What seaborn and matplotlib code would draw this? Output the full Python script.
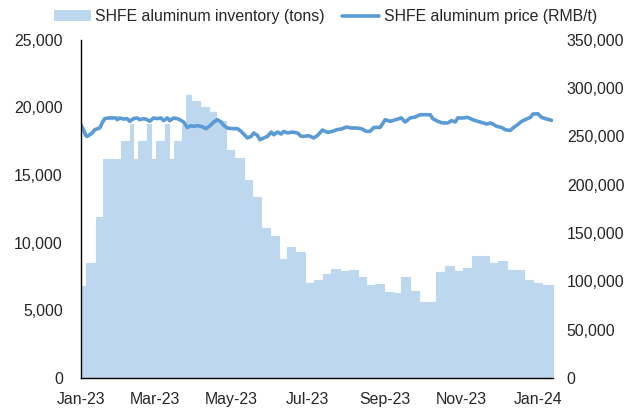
import matplotlib
matplotlib.use("Agg")
import pandas as pd
import seaborn as sns
import matplotlib.pyplot as plt
import matplotlib.dates as mdates
import matplotlib.ticker as ticker
from matplotlib.patches import Patch
from matplotlib.lines import Line2D

# SHFE aluminum price, RMB/t (left axis)
price_dates = [
    "2023-01-01", "2023-01-03", "2023-01-05", "2023-01-06", "2023-01-10", "2023-01-12",
    "2023-01-16", "2023-01-18", "2023-01-20", "2023-01-23", "2023-01-29", "2023-01-30",
    "2023-02-01", "2023-02-04", "2023-02-07", "2023-02-09", "2023-02-12", "2023-02-15",
    "2023-02-17", "2023-02-20", "2023-02-23", "2023-02-25", "2023-02-28", "2023-03-03",
    "2023-03-06", "2023-03-08", "2023-03-11", "2023-03-13", "2023-03-16", "2023-03-19",
    "2023-03-21", "2023-03-24", "2023-03-27", "2023-03-30", "2023-04-01", "2023-04-04",
    "2023-04-07", "2023-04-09", "2023-04-11", "2023-04-15", "2023-04-17", "2023-04-20",
    "2023-04-23", "2023-04-25", "2023-04-28", "2023-05-02", "2023-05-06", "2023-05-09",
    "2023-05-11", "2023-05-14", "2023-05-17", "2023-05-19", "2023-05-22", "2023-05-24",
    "2023-05-27", "2023-05-30", "2023-06-02", "2023-06-04", "2023-06-07", "2023-06-10",
    "2023-06-12", "2023-06-15", "2023-06-19", "2023-06-23", "2023-06-26", "2023-06-28",
    "2023-07-02", "2023-07-06", "2023-07-09", "2023-07-13", "2023-07-17", "2023-07-21",
    "2023-07-25", "2023-07-28", "2023-08-01", "2023-08-05", "2023-08-09", "2023-08-13",
    "2023-08-17", "2023-08-20", "2023-08-23", "2023-08-28", "2023-09-01", "2023-09-05",
    "2023-09-07", "2023-09-11", "2023-09-14", "2023-09-17", "2023-09-21", "2023-09-25",
    "2023-09-29", "2023-10-03", "2023-10-07", "2023-10-09", "2023-10-13", "2023-10-17",
    "2023-10-21", "2023-10-24", "2023-10-27", "2023-10-29", "2023-11-02", "2023-11-06",
    "2023-11-10", "2023-11-14", "2023-11-17", "2023-11-21", "2023-11-24", "2023-11-26",
    "2023-11-29", "2023-12-03", "2023-12-06", "2023-12-10", "2023-12-12", "2023-12-15",
    "2023-12-19", "2023-12-23", "2023-12-26", "2023-12-28", "2024-01-01", "2024-01-04",
    "2024-01-08", "2024-01-12",
]
price_values = [
    18710, 18340, 17900, 17850, 18100, 18340,
    18470, 18840, 19160, 19210, 19210, 19080,
    19210, 19130, 19160, 18960, 19160, 19210,
    19080, 19160, 19080, 18960, 19210, 19160,
    19210, 19010, 19210, 19010, 19210, 19160,
    19080, 18910, 18510, 18640, 18590, 18640,
    18590, 18510, 18420, 18710, 18910, 19080,
    18910, 18660, 18470, 18420, 18420, 18220,
    18020, 17730, 17850, 18100, 17920, 17600,
    17730, 17850, 18170, 17970, 18170, 18020,
    18220, 18100, 18170, 18100, 17850, 17850,
    17900, 17730, 17920, 18320, 18140, 18220,
    18360, 18390, 18540, 18470, 18470, 18420,
    18220, 18220, 18510, 18510, 19080, 18960,
    19010, 19130, 19210, 18910, 19210, 19280,
    19450, 19450, 19450, 19160, 18960, 18840,
    18840, 19010, 18910, 19210, 19210, 19250,
    19080, 18960, 18880, 18760, 18840, 18760,
    18590, 18510, 18340, 18290, 18470, 18660,
    18960, 19130, 19250, 19500, 19520, 19250,
    19130, 19030,
]

# SHFE aluminum inventory, tons (right axis), weekly readings
inv_dates = [
    "2023-01-01", "2023-01-05", "2023-01-13", "2023-01-19", "2023-02-02", "2023-02-09",
    "2023-02-12", "2023-02-16", "2023-02-23", "2023-02-26", "2023-03-02", "2023-03-09",
    "2023-03-12", "2023-03-16", "2023-03-23", "2023-03-26", "2023-03-30", "2023-04-06",
    "2023-04-13", "2023-04-19", "2023-04-27", "2023-05-03", "2023-05-11", "2023-05-18",
    "2023-05-25", "2023-06-01", "2023-06-08", "2023-06-15", "2023-06-21", "2023-06-29",
    "2023-07-06", "2023-07-13", "2023-07-20", "2023-07-27", "2023-08-03", "2023-08-10",
    "2023-08-17", "2023-08-24", "2023-08-31", "2023-09-07", "2023-09-14", "2023-09-21",
    "2023-09-28", "2023-10-12", "2023-10-19", "2023-10-26", "2023-11-02", "2023-11-09",
    "2023-11-16", "2023-11-23", "2023-11-30", "2023-12-07", "2023-12-21", "2023-12-28",
    "2024-01-04", "2024-01-13",
]
inv_values = [
    95300, 118800, 167000, 226500, 245400, 263000,
    226500, 245400, 263000, 226500, 245400, 263000,
    226500, 245400, 262000, 293000, 286200, 280300,
    274800, 266000, 236000, 227500, 205000, 186800,
    155000, 147000, 123200, 135500, 130800, 98100,
    101500, 107700, 112500, 110400, 112200, 104900,
    96000, 97700, 89100, 88000, 104200, 89700,
    78700, 109800, 116000, 110400, 114200, 126300,
    126000, 119400, 121500, 111500, 101500, 98400,
    96300, 96300,
]

price_label = "SHFE aluminum price (RMB/t)"
inv_label = "SHFE aluminum inventory (tons)"
line_color = "#5B9BD5"
fill_color = "#BDD7EE"
fs = 11.4

sns.set_style("white")
plt.rcParams["font.family"] = ["Liberation Sans", "DejaVu Sans"]
plt.rcParams["font.size"] = fs

price_df = pd.DataFrame({"date": pd.to_datetime(price_dates), "price": price_values})
inv_df = pd.DataFrame({"date": pd.to_datetime(inv_dates), "inventory": inv_values})

fig, ax = plt.subplots(figsize=(6.37, 4.08), dpi=100)
fig.subplots_adjust(left=0.127, right=0.868, top=0.903, bottom=0.0735)
ax2 = ax.twinx()

ax2.fill_between(inv_df["date"], inv_df["inventory"], step="post",
                 facecolor=fill_color, edgecolor=fill_color, linewidth=0.8)
sns.lineplot(data=price_df, x="date", y="price", ax=ax, color=line_color,
             linewidth=2.6)

# price line sits above the inventory area
ax.set_zorder(ax2.get_zorder() + 1)
ax.patch.set_visible(False)

ax.set_xlim(pd.Timestamp("2023-01-01"), pd.Timestamp("2024-01-13"))
ax.set_ylim(0, 25000)
ax2.set_ylim(0, 350000)
ax.yaxis.set_major_locator(ticker.MultipleLocator(5000))
ax2.yaxis.set_major_locator(ticker.MultipleLocator(50000))
ax.yaxis.set_major_formatter(ticker.StrMethodFormatter("{x:,.0f}"))
ax2.yaxis.set_major_formatter(ticker.StrMethodFormatter("{x:,.0f}"))
ax.xaxis.set_major_locator(mdates.MonthLocator(bymonth=[1, 3, 5, 7, 9, 11]))
ax.xaxis.set_major_formatter(mdates.DateFormatter("%b-%y"))

ax.set(xlabel="", ylabel="")
ax2.set_ylabel("")
ax.tick_params(axis="y", length=0, pad=13, labelsize=fs)
ax.tick_params(axis="x", length=0, pad=10, labelsize=fs)
ax2.tick_params(axis="y", length=0, pad=10, labelsize=fs)

for side in ["top", "right"]:
    ax.spines[side].set_visible(False)
for side in ["top", "right", "left", "bottom"]:
    ax2.spines[side].set_visible(False)
ax.spines["left"].set_color("black")
ax.spines["bottom"].set_color("black")
ax.spines["left"].set_linewidth(1)
ax.spines["bottom"].set_linewidth(1)

handles = [
    Patch(facecolor=fill_color, edgecolor="none", label=inv_label),
    Line2D([0], [0], color=line_color, linewidth=2.6, label=price_label),
]
fig.legend(handles=handles, loc="center", bbox_to_anchor=(0.511, 0.959),
           ncol=2, frameon=False, fontsize=fs, handlelength=2.3,
           handletextpad=0.3, columnspacing=1.1, borderpad=0)

fig.savefig("out.png", dpi=100)
